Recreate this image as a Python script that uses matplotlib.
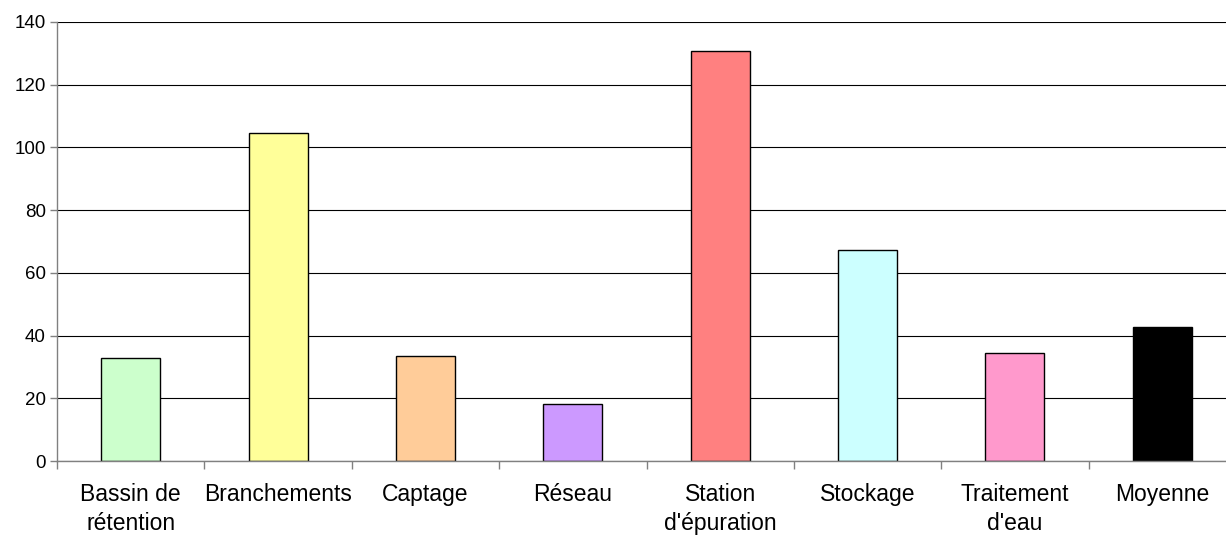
import matplotlib
matplotlib.use("Agg")
import matplotlib.pyplot as plt
import numpy as np

categories = ["Bassin de\nrétention", "Branchements", "Captage", "Réseau",
              "Station\nd'épuration", "Stockage", "Traitement\nd'eau", "Moyenne"]
values = [33.0, 104.6, 33.5, 18.1, 130.8, 67.3, 34.5, 42.8]
colors = ["#CCFFCC", "#FFFF99", "#FFCC99", "#CC99FF",
          "#FF8080", "#CCFFFF", "#FF99CC", "#000000"]
yticks = [0, 20, 40, 60, 80, 100, 120, 140]

plt.rcParams["font.family"] = ["Liberation Sans", "DejaVu Sans"]

W, H = 1226, 538
fig = plt.figure(figsize=(W / 100, H / 100), dpi=100)
left, right = 57 / W, 1236 / W
bottom, top = (H - 461) / H, (H - 22) / H
ax = fig.add_axes([left, bottom, right - left, top - bottom])

x = np.arange(len(categories))
ax.bar(x, values, width=0.4, color=colors, edgecolor="black", linewidth=1.0, zorder=3)

ax.set_xlim(-0.5, len(categories) - 0.5)
ax.set_ylim(0, 140)
ax.set_yticks(yticks)
ax.yaxis.grid(True, color="black", linewidth=0.8, zorder=0)

# category labels centred under bars, ticks at category boundaries
ax.set_xticks(x)
ax.set_xticklabels(categories, fontsize=16.5, linespacing=1.3, va="top")
ax.tick_params(axis="x", which="major", length=0, pad=16)
ax.set_xticks(np.arange(-0.5, len(categories), 1.0), minor=True)
ax.tick_params(axis="x", which="minor", length=6, color="#808080", width=1)
ax.tick_params(axis="y", length=5, color="#808080", width=1, labelsize=13.5, pad=3)

for s in ["top", "right"]:
    ax.spines[s].set_visible(False)
for s in ["left", "bottom"]:
    ax.spines[s].set_color("#808080")
    ax.spines[s].set_linewidth(1)
    ax.spines[s].set_zorder(4)

fig.savefig("out.png", dpi=100)
